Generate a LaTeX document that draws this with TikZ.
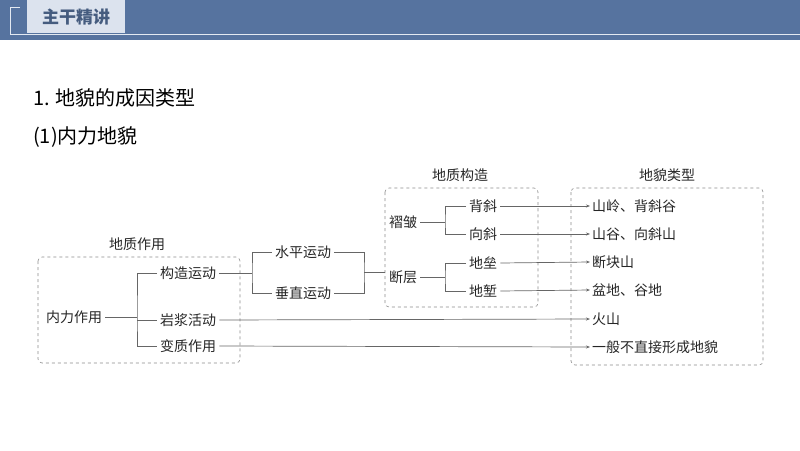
\documentclass[tikz,border=0pt]{standalone}
\usepackage{fontspec}
\setmainfont{Noto Sans CJK SC}
\usetikzlibrary{arrows.meta}
\definecolor{band}{HTML}{56739F}
\definecolor{tab}{HTML}{DCE3EE}
\definecolor{ln}{HTML}{666666}
\begin{document}
\begin{tikzpicture}[x=1pt,y=-1pt,
  t/.style={inner sep=0pt,font=\fontsize{14}{14}\selectfont,text=black!85},
  c/.style={draw=ln,line width=0.7pt},
  ar/.style={c,-{Stealth[length=4pt,width=3pt]}},
  box/.style={draw=black!45,dashed,rounded corners=4pt,line width=0.6pt}]
\useasboundingbox (0,0) rectangle (800,450);
% header
\fill[band] (0,0) rectangle (800,40);
\fill[tab] (27,0) rectangle (125,33);
\draw[tab!80!white,line width=0.8pt] (20,7) -- (10,7) -- (10,34) -- (800,34);
\node[font=\bfseries\fontsize{17}{17}\selectfont,text=band!80!black] (hd) at (76,17) {主干精讲};
% titles
\node[anchor=west,inner sep=0pt,font=\fontsize{20}{20}\selectfont] (t1) at (33,98) {1. 地貌的成因类型};
\node[anchor=west,inner sep=0pt,font=\fontsize{20}{20}\selectfont] (t2) at (33,137) {(1)内力地貌};
% boxes
\draw[box] (38,257) rectangle (240,363);
\draw[box] (385,188) rectangle (538,307);
\draw[box] (571,188) rectangle (763,365);
\node[t] (l1) at (137,244) {地质作用};
\node[t] (l2) at (460,175) {地质构造};
\node[t] (l3) at (667,175) {地貌类型};
% nodes
\node[t,anchor=west] (nl) at (46,317) {内力作用};
\node[t,anchor=west] (gz) at (160,273) {构造运动};
\node[t,anchor=west] (yj) at (160,320) {岩浆活动};
\node[t,anchor=west] (bz) at (160,346) {变质作用};
\node[t,anchor=west] (sp) at (275,252) {水平运动};
\node[t,anchor=west] (cz) at (275,293) {垂直运动};
\node[t,anchor=west] (zz) at (389,222) {褶皱};
\node[t,anchor=west] (dc) at (389,277) {断层};
\node[t,anchor=west] (bx) at (469,206) {背斜};
\node[t,anchor=west] (xx) at (469,234) {向斜};
\node[t,anchor=west] (dl) at (469,263) {地垒};
\node[t,anchor=west] (dq) at (469,291) {地堑};
\node[t,anchor=west] (r1) at (592,206) {山岭、背斜谷};
\node[t,anchor=west] (r2) at (592,234) {山谷、向斜山};
\node[t,anchor=west] (r3) at (592,262) {断块山};
\node[t,anchor=west] (r4) at (592,290) {盆地、谷地};
\node[t,anchor=west] (r5) at (592,319) {火山};
\node[t,anchor=west] (r6) at (592,347) {一般不直接形成地貌};
% connectors
\draw[c] ([xshift=3pt]nl.east) -- (137,317);
\draw[c] ([xshift=-3pt]gz.west) -| (137,317) |- ([xshift=-3pt]bz.west);
\draw[c] (137,320) -- ([xshift=-3pt]yj.west);
\draw[c] ([xshift=3pt]gz.east) -- (252,273);
\draw[c] ([xshift=-3pt]sp.west) -| (252,273) |- ([xshift=-3pt]cz.west);
\draw[c] ([xshift=3pt]sp.east) -| (364,272) |- ([xshift=3pt]cz.east);
\draw[c] (364,272) -- (385,272);
\draw[c] ([xshift=3pt]zz.east) -- (445,222);
\draw[c] ([xshift=-3pt]bx.west) -| (445,222) |- ([xshift=-3pt]xx.west);
\draw[c] ([xshift=3pt]dc.east) -- (445,277);
\draw[c] ([xshift=-3pt]dl.west) -| (445,277) |- ([xshift=-3pt]dq.west);
\draw[ar] ([xshift=3pt]bx.east) -- ([xshift=-2pt]r1.west);
\draw[ar] ([xshift=3pt]xx.east) -- ([xshift=-2pt]r2.west);
\draw[ar] ([xshift=3pt]dl.east) -- ([xshift=-2pt]r3.west);
\draw[ar] ([xshift=3pt]dq.east) -- ([xshift=-2pt]r4.west);
\draw[ar] ([xshift=3pt]yj.east) -- ([xshift=-2pt]r5.west);
\draw[ar] ([xshift=3pt]bz.east) -- ([xshift=-2pt]r6.west);
\end{tikzpicture}
\end{document}
